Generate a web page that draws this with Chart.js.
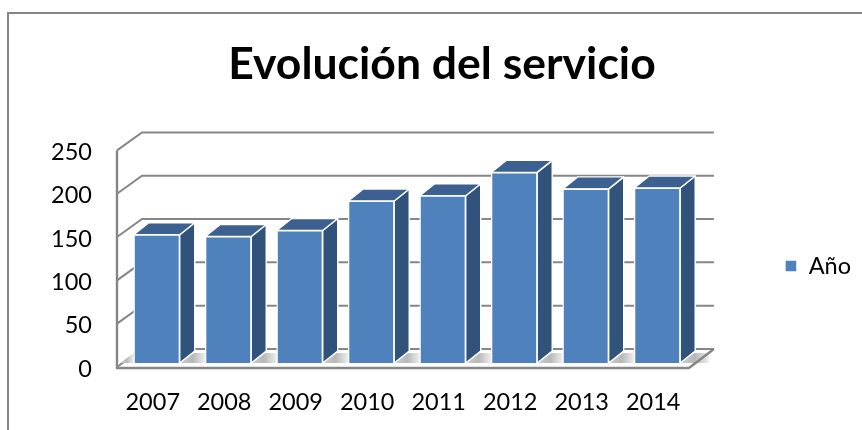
<!DOCTYPE html>
<html>
<head>
<meta charset="utf-8">
<style>html,body{margin:0;padding:0;background:#fff}canvas{display:block}</style>
<script src="https://cdn.jsdelivr.net/npm/chart.js@4"></script>
</head>
<body>
<canvas id="c" width="862" height="430"></canvas>
<script>
const categories = ['2007','2008','2009','2010','2011','2012','2013','2014'];
const seriesName = 'Año';
const values = [148,146,153,187,193,220,201,202];
const titleText = 'Evolución del servicio';

const GRID = '#868686', FRONT = '#4F81BD', SIDE = '#31527A', TOP = '#3C6190';
const WALL_DX = 25, WALL_DY = -18, BAR_DX = 4, BAR_DY = -4, DEPTH_DX = 15, DEPTH_DY = -12;
const FONT = 'Lato, Carlito, sans-serif';

function poly(ctx, pts){
  ctx.beginPath();
  pts.forEach((p,i)=> i ? ctx.lineTo(p[0],p[1]) : ctx.moveTo(p[0],p[1]));
  ctx.closePath();
}
const chart3d = {
  id: 'chart3d',
  afterLayout(chart){
    chart.legend.top += 51; chart.legend.bottom += 51;
    chart.legend.left -= 1; chart.legend.right -= 1;
  },
  beforeDatasetsDraw(chart){
    const {ctx, scales:{x,y}, chartArea:a} = chart;
    ctx.save();
    // outer frame
    ctx.strokeStyle = GRID; ctx.lineWidth = 2;
    ctx.beginPath(); ctx.moveTo(8,430); ctx.lineTo(8,13); ctx.lineTo(862,13); ctx.stroke();
    // floor
    const y0 = y.getPixelForValue(0);
    // grid on back wall + left wall diagonals
    ctx.lineWidth = 2;
    y.ticks.forEach(t=>{
      const py = y.getPixelForValue(t.value);
      ctx.strokeStyle = GRID;
      ctx.beginPath();
      ctx.moveTo(a.left, py);
      ctx.lineTo(a.left+WALL_DX, py+WALL_DY);
      ctx.lineTo(a.right+WALL_DX, py+WALL_DY);
      ctx.stroke();
    });
    // floor shadows between the bars
    const els = chart.getDatasetMeta(0).data;
    const floorBack = y0 + BAR_DY - 10, floorFront = y0 + BAR_DY;
    const edges = els.map(b=>b.x - b.width/2 + BAR_DX);
    edges.push(a.right + WALL_DX - 5);
    let prev = a.left + 3;
    edges.forEach((e,i)=>{
      const g = ctx.createLinearGradient(prev,0,e,0);
      g.addColorStop(0,'#cfcfcf'); g.addColorStop(0.5,'#b8b8b8'); g.addColorStop(1,'#efefef');
      ctx.fillStyle = g;
      poly(ctx, [[prev,floorFront],[Math.min(e,prev+40),floorFront],[e,floorBack],[prev+14,floorBack]]);
      ctx.fill();
      if (els[i]) prev = els[i].x + els[i].width/2 + BAR_DX;
    });
    // floor border
    ctx.strokeStyle = GRID;
    ctx.beginPath();
    ctx.moveTo(a.left, a.top); ctx.lineTo(a.left, y0+1);
    ctx.lineTo(a.right, y0+1);
    ctx.lineTo(a.right+WALL_DX, y0+WALL_DY);
    ctx.lineWidth = 2.4; ctx.stroke();
    // bar depth faces
    ctx.strokeStyle = '#fff'; ctx.lineWidth = 1.4; ctx.lineJoin = 'round';
    els.forEach(b=>{
      const l = b.x-b.width/2+BAR_DX, r = b.x+b.width/2+BAR_DX, t = b.y+BAR_DY, bt = b.base+BAR_DY;
      poly(ctx, [[r,t],[r+DEPTH_DX,t+DEPTH_DY],[r+DEPTH_DX,bt+DEPTH_DY],[r,bt]]);
      ctx.fillStyle = SIDE; ctx.fill(); ctx.stroke();
      poly(ctx, [[l,t],[l+DEPTH_DX,t+DEPTH_DY],[r+DEPTH_DX,t+DEPTH_DY],[r,t]]);
      ctx.fillStyle = TOP; ctx.fill(); ctx.stroke();
    });
    ctx.restore();
    ctx.save();
    ctx.translate(BAR_DX, BAR_DY);
  },
  afterDatasetsDraw(chart){ chart.ctx.restore(); }
};

new Chart(document.getElementById('c'), {
  type: 'bar',
  data: {
    labels: categories,
    datasets: [{
      label: seriesName,
      data: values,
      backgroundColor: FRONT,
      borderColor: '#ffffff',
      borderWidth: 1.4,
      barThickness: 46
    }]
  },
  plugins: [chart3d],
  options: {
    responsive: false,
    animation: false,
    layout: { padding: { left: 22, right: 0, top: 0, bottom: 0 } },
    plugins: {
      title: {
        display: true,
        text: titleText,
        color: '#000',
        font: { family: FONT, size: 44.5, weight: 'bold', lineHeight: 1.2 },
        padding: { top: 38, bottom: 59 }
      },
      legend: {
        display: true,
        position: 'right',
        labels: {
          boxWidth: 12, boxHeight: 12, padding: 97,
          color: '#000',
          font: { family: FONT, size: 23.5 }
        }
      },
      tooltip: { enabled: false }
    },
    scales: {
      x: {
        grid: { display: false }, border: { display: false },
        ticks: { color: '#000', font: { family: FONT, size: 23.5 }, padding: 13, maxRotation: 0, autoSkip: false },
        afterFit(s){ s.height = 63; }
      },
      y: {
        min: 0, max: 250,
        grid: { display: false }, border: { display: false },
        ticks: { stepSize: 50, color: '#000', font: { family: FONT, size: 23.5 }, padding: 17, labelOffset: 2 },
        afterFit(s){ s.width = 95; }
      }
    }
  }
});
</script>
</body>
</html>
